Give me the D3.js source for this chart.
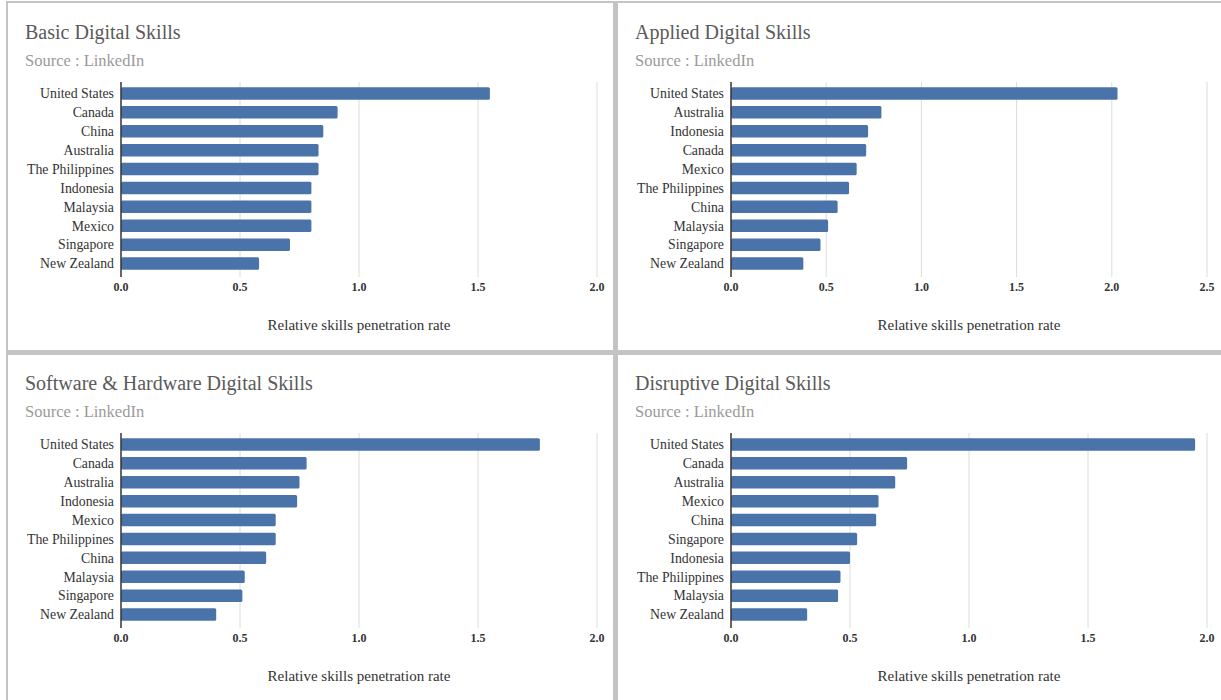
<!DOCTYPE html>
<html>
<head>
<meta charset="utf-8">
<script src="https://cdn.jsdelivr.net/npm/d3@7"></script>
<style>
  html, body { margin: 0; padding: 0; background: #fff; }
  svg { display: block; font-family: "Liberation Serif", "Times New Roman", serif; }
</style>
</head>
<body>
<svg id="chart" width="1221" height="700"></svg>
<script>
// ---- Data ----
const titles = ["Basic Digital Skills", "Applied Digital Skills", "Software & Hardware Digital Skills", "Disruptive Digital Skills"];
const sourceLabel = "Source : LinkedIn";
const axisTitle = "Relative skills penetration rate";

const basicCountries = ["United States", "Canada", "China", "Australia", "The Philippines", "Indonesia", "Malaysia", "Mexico", "Singapore", "New Zealand"];
const basicValues = [1.55, 0.91, 0.85, 0.83, 0.83, 0.80, 0.80, 0.80, 0.71, 0.58];

const appliedCountries = ["United States", "Australia", "Indonesia", "Canada", "Mexico", "The Philippines", "China", "Malaysia", "Singapore", "New Zealand"];
const appliedValues = [2.03, 0.79, 0.72, 0.71, 0.66, 0.62, 0.56, 0.51, 0.47, 0.38];

const softwareCountries = ["United States", "Canada", "Australia", "Indonesia", "Mexico", "The Philippines", "China", "Malaysia", "Singapore", "New Zealand"];
const softwareValues = [1.76, 0.78, 0.75, 0.74, 0.65, 0.65, 0.61, 0.52, 0.51, 0.40];

const disruptiveCountries = ["United States", "Canada", "Australia", "Mexico", "China", "Singapore", "Indonesia", "The Philippines", "Malaysia", "New Zealand"];
const disruptiveValues = [1.95, 0.74, 0.69, 0.62, 0.61, 0.53, 0.50, 0.46, 0.45, 0.32];

const xMaxes = [2.0, 2.5, 2.0, 2.0];
const xTicks = [
  [0, 0.5, 1.0, 1.5, 2.0],
  [0, 0.5, 1.0, 1.5, 2.0, 2.5],
  [0, 0.5, 1.0, 1.5, 2.0],
  [0, 0.5, 1.0, 1.5, 2.0]
];

const panels = [
  { title: titles[0], countries: basicCountries, values: basicValues, xMax: xMaxes[0], ticks: xTicks[0], ox: 0, oy: 0 },
  { title: titles[1], countries: appliedCountries, values: appliedValues, xMax: xMaxes[1], ticks: xTicks[1], ox: 610, oy: 0 },
  { title: titles[2], countries: softwareCountries, values: softwareValues, xMax: xMaxes[2], ticks: xTicks[2], ox: 0, oy: 351 },
  { title: titles[3], countries: disruptiveCountries, values: disruptiveValues, xMax: xMaxes[3], ticks: xTicks[3], ox: 610, oy: 351 }
];

const svg = d3.select("#chart");
const frameColor = "#c4c4c4";
const barColor = "#4a73aa";

// Frame lines
svg.append("rect").attr("x", 6).attr("y", 1).attr("width", 1215).attr("height", 2).attr("fill", frameColor);
svg.append("rect").attr("x", 6).attr("y", 1).attr("width", 2).attr("height", 699).attr("fill", frameColor);
svg.append("rect").attr("x", 613).attr("y", 1).attr("width", 5).attr("height", 699).attr("fill", frameColor);
svg.append("rect").attr("x", 6).attr("y", 350).attr("width", 1215).attr("height", 5).attr("fill", frameColor);

panels.forEach(p => {
  const g = svg.append("g").attr("transform", `translate(${p.ox},${p.oy})`);
  const x0 = 121;
  const xEnd = 597;
  const x = d3.scaleLinear().domain([0, p.xMax]).range([x0, xEnd]);
  const y = d3.scaleBand().domain(p.countries).range([84, 273]).paddingInner(0.34).paddingOuter(0.17);

  // Title & source
  g.append("text").attr("x", 25).attr("y", 39).attr("font-size", 20).attr("fill", "#5a5a5a").text(p.title);
  g.append("text").attr("x", 25).attr("y", 66).attr("font-size", 16.5).attr("fill", "#9a9a9a").text(sourceLabel);

  // Gridlines
  g.selectAll("line.grid").data(p.ticks.filter(t => t > 0)).join("line")
    .attr("class", "grid")
    .attr("x1", d => x(d)).attr("x2", d => x(d))
    .attr("y1", 82).attr("y2", 277)
    .attr("stroke", "#dcdcdc").attr("stroke-width", 1);

  // Bars
  g.selectAll("rect.bar").data(p.countries.map((c, i) => ({ c, v: p.values[i] }))).join("rect")
    .attr("class", "bar")
    .attr("x", x(0))
    .attr("y", d => y(d.c))
    .attr("width", d => x(d.v) - x(0))
    .attr("height", y.bandwidth())
    .attr("rx", 1.5)
    .attr("fill", barColor);

  // Y axis line
  g.append("line").attr("x1", x(0)).attr("x2", x(0)).attr("y1", 82).attr("y2", 277)
    .attr("stroke", "#333").attr("stroke-width", 1.5);

  // Country labels
  g.selectAll("text.cat").data(p.countries).join("text")
    .attr("class", "cat")
    .attr("x", x(0) - 7)
    .attr("y", d => y(d) + y.bandwidth() / 2)
    .attr("dy", "0.35em")
    .attr("text-anchor", "end")
    .attr("font-size", 13.8)
    .attr("fill", "#333")
    .text(d => d);

  // X tick labels
  g.selectAll("text.tick").data(p.ticks).join("text")
    .attr("class", "tick")
    .attr("x", d => x(d))
    .attr("y", 291)
    .attr("text-anchor", "middle")
    .attr("font-size", 12)
    .attr("font-weight", "bold")
    .attr("fill", "#333")
    .text(d => d3.format(".1f")(d));

  // Axis title
  g.append("text")
    .attr("x", (x0 + xEnd) / 2)
    .attr("y", 330)
    .attr("text-anchor", "middle")
    .attr("font-size", 15)
    .attr("fill", "#333")
    .text(axisTitle);
});
</script>
</body>
</html>
